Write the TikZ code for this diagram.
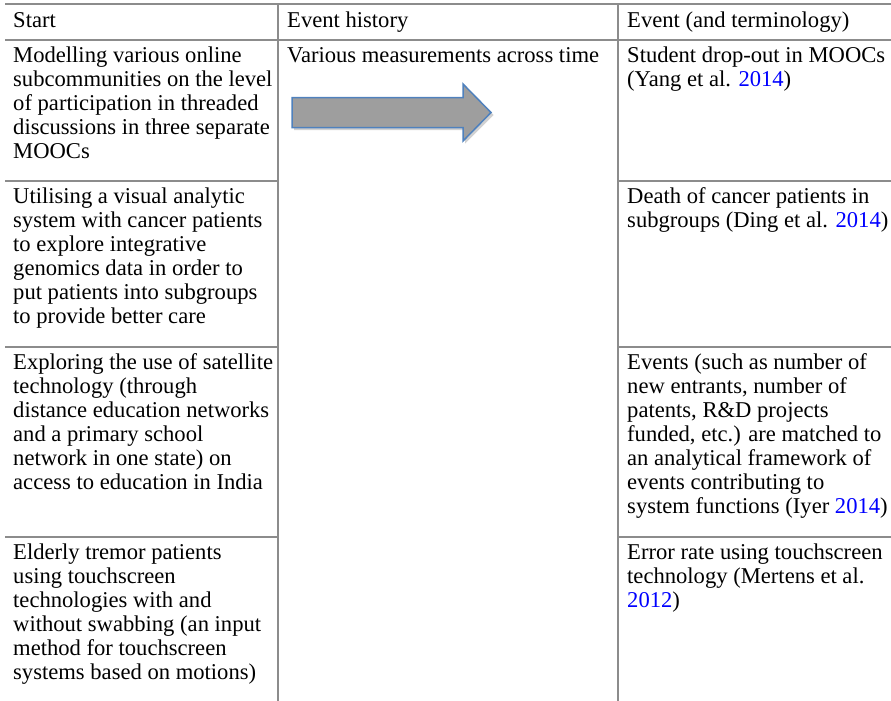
\documentclass[tikz,border=0pt]{standalone}
\usepackage{fontspec}
\setmainfont{Liberation Serif}
\definecolor{rulegray}{RGB}{140,140,140}
\definecolor{linkblue}{RGB}{0,0,255}
\definecolor{arrowfill}{RGB}{158,158,158}
\definecolor{arrowedge}{RGB}{79,129,189}
\newcommand{\yr}[1]{\textcolor{linkblue}{#1}}
\begin{document}
\begin{tikzpicture}[x=1pt,y=-1pt,
  rule/.style={draw=rulegray, line width=1.2pt},
  cell/.style={anchor=north west, inner sep=0pt, align=left, font=\fontsize{22.6}{24}\selectfont},
  bigarrow/.style={fill=arrowfill, draw=arrowedge, line width=1.5pt, line join=miter},
  arrowshadow/.style={fill=black!18, draw=none}]
\useasboundingbox (0,0) rectangle (891,701);
% grid coordinates
\coordinate (tl) at (5,4);
\coordinate (tr) at (891,4);
\coordinate (hl) at (5,40);
\coordinate (hr) at (891,40);
\coordinate (v1t) at (278,4);
\coordinate (v1b) at (278,701);
\coordinate (v2t) at (618,4);
\coordinate (v2b) at (618,701);
% rules
\draw[rule] (tl) -- (tr);
\draw[rule] (hl) -- (hr);
\draw[rule] (v1t) -- (v1b);
\draw[rule] (v2t) -- (v2b);
\foreach \y in {181,347,537}{
  \draw[rule] (5,\y) -- (278,\y);
  \draw[rule] (618,\y) -- (891,\y);
}
% header
\node[cell] (hstart) at (13,10.2) {\strut Start};
\node[cell] (hhist) at (287,10.2) {\strut Event history};
\node[cell] (hevent) at (627,10.2) {\strut Event (and terminology)};
% row 1
\node[cell] (s1) at (13,45.2) {\strut Modelling various online\\subcommunities on the level\\of participation in threaded\\discussions in three separate\\MOOCs};
\node[cell] (hist) at (287,45.2) {\strut Various measurements across time};
\node[cell] (e1) at (627,45.2) {\strut Student drop-out in MOOCs\\(Yang et al. \yr{2014})};
% row 2
\node[cell] (s2) at (13,186.2) {\strut Utilising a visual analytic\\system with cancer patients\\to explore integrative\\genomics data in order to\\put patients into subgroups\\to provide better care};
\node[cell] (e2) at (627,186.2) {\strut Death of cancer patients in\\subgroups (Ding et al. \yr{2014})};
% row 3
\node[cell] (s3) at (13,352.2) {\strut Exploring the use of satellite\\technology (through\\distance education networks\\and a primary school\\network in one state) on\\access to education in India};
\node[cell] (e3) at (627,352.2) {\strut Events (such as number of\\new entrants, number of\\patents, R\&D projects\\funded, etc.) are matched to\\an analytical framework of\\events contributing to\\system functions (Iyer \yr{2014})};
% row 4
\node[cell] (s4) at (13,542.2) {\strut Elderly tremor patients\\using touchscreen\\technologies with and\\without swabbing (an input\\method for touchscreen\\systems based on motions)};
\node[cell] (e4) at (627,542.2) {\strut Error rate using touchscreen\\technology (Mertens et al.\\\yr{2012})};
% arrow
\fill[arrowshadow] (294,100) -- (465,100) -- (465,86.5) -- (493.5,115) -- (465,143.5) -- (465,130) -- (294,130) -- cycle;
\draw[bigarrow] (292,97.5) -- (463,97.5) -- (463,84) -- (491,112.5) -- (463,141) -- (463,127.5) -- (292,127.5) -- cycle;
\end{tikzpicture}
\end{document}
